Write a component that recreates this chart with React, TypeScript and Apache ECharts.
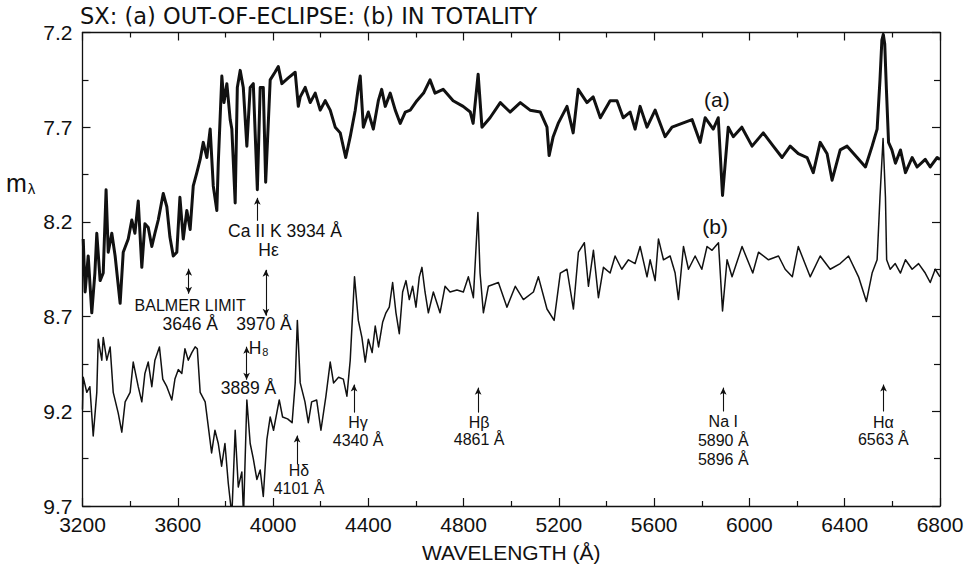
import React, { useEffect, useRef } from 'react';
import * as echarts from 'echarts';

// Spectrum (a): out of eclipse — wavelength (Å) and magnitude m_lambda
const waveA = [3203,3211,3224,3239,3252,3260,3274,3287,3299,3308,3323,3337,3358,3371,3392,3407,3420,3434,3449,3462,3476,3491,3504,3518,3539,3554,3567,3581,3596,3609,3623,3638,3652,3665,3680,3694,3707,3722,3736,3749,3764,3770,3785,3794,3806,3820,3827,3841,3850,3862,3875,3890,3904,3917,3934,3946,3959,3969,3988,4008,4022,4037,4064,4093,4106,4114,4135,4156,4177,4198,4219,4240,4261,4282,4305,4324,4345,4358,4366,4379,4400,4421,4442,4456,4471,4492,4513,4534,4555,4576,4604,4632,4659,4680,4714,4756,4798,4828,4840,4861,4877,4911,4954,4995,5038,5079,5122,5150,5159,5176,5197,5234,5260,5281,5318,5344,5374,5415,5444,5470,5499,5520,5541,5570,5604,5646,5675,5717,5759,5793,5814,5848,5869,5887,5911,5932,5968,6011,6058,6100,6137,6171,6205,6242,6268,6297,6326,6347,6381,6410,6452,6487,6515,6536,6548,6556,6562,6568,6575,6584,6598,6613,6634,6655,6683,6704,6738,6759,6788,6800];
const magA = [8.29,8.57,8.38,8.68,8.47,8.26,8.51,8.47,8.03,8.36,8.26,8.38,8.63,8.36,8.29,8.19,8.26,8.09,8.44,8.21,8.23,8.33,8.26,8.19,8.05,8.12,8.28,8.38,8.36,8.07,8.29,8.14,8.24,8.01,7.94,7.87,7.78,7.86,7.71,8.01,8.14,7.89,7.43,7.57,7.47,7.66,7.71,8.10,7.49,7.40,7.49,7.80,7.49,7.47,8.03,7.49,7.49,7.99,7.45,7.41,7.38,7.47,7.44,7.41,7.59,7.54,7.49,7.57,7.52,7.61,7.56,7.61,7.70,7.73,7.86,7.75,7.61,7.49,7.43,7.70,7.62,7.71,7.56,7.50,7.59,7.52,7.61,7.68,7.62,7.61,7.56,7.52,7.45,7.52,7.50,7.56,7.59,7.62,7.68,7.42,7.70,7.65,7.57,7.62,7.57,7.61,7.62,7.70,7.85,7.75,7.68,7.59,7.73,7.50,7.57,7.54,7.65,7.56,7.56,7.65,7.62,7.71,7.59,7.70,7.61,7.75,7.70,7.68,7.66,7.78,7.65,7.71,7.65,8.06,7.70,7.75,7.70,7.80,7.73,7.80,7.86,7.80,7.84,7.86,7.94,7.78,7.84,7.98,7.82,7.80,7.86,7.91,7.80,7.71,7.45,7.24,7.21,7.26,7.50,7.78,7.82,7.89,7.82,7.94,7.86,7.91,7.87,7.91,7.86,7.87];

// Spectrum (b): in totality
const waveB = [3200,3203,3218,3231,3245,3260,3266,3281,3287,3302,3316,3329,3350,3365,3379,3400,3413,3434,3449,3462,3476,3491,3504,3523,3537,3554,3575,3588,3602,3617,3630,3644,3659,3673,3682,3694,3715,3728,3742,3756,3770,3784,3798,3812,3827,3841,3854,3869,3876,3890,3904,3917,3932,3946,3959,3974,3988,4002,4026,4040,4061,4080,4093,4102,4114,4134,4148,4162,4183,4201,4222,4240,4254,4275,4295,4310,4324,4342,4358,4373,4387,4400,4416,4429,4443,4460,4474,4488,4502,4516,4530,4544,4558,4572,4586,4600,4614,4625,4638,4652,4673,4701,4722,4743,4772,4799,4820,4841,4860,4869,4883,4904,4946,4982,5017,5051,5093,5114,5150,5180,5206,5234,5261,5282,5307,5324,5345,5366,5387,5415,5436,5464,5492,5520,5541,5570,5583,5604,5618,5639,5667,5688,5702,5723,5744,5772,5800,5822,5843,5870,5887,5906,5927,5969,6014,6038,6080,6122,6150,6180,6205,6255,6297,6339,6381,6416,6458,6491,6515,6536,6548,6561,6571,6576,6591,6612,6634,6655,6683,6710,6738,6759,6780,6800];
const magB = [9.19,9.02,9.10,9.07,9.33,9.10,8.82,8.93,8.81,8.93,8.86,9.10,9.21,9.31,9.15,9.10,8.94,9.07,9.15,9.00,8.94,9.07,8.93,8.86,9.03,9.07,9.14,9.03,8.98,9.00,8.87,8.93,8.89,8.86,8.87,9.10,9.15,9.28,9.42,9.30,9.37,9.49,9.37,9.58,9.75,9.30,9.60,9.52,9.75,9.14,9.37,9.45,9.56,9.51,9.65,9.35,9.23,9.30,9.14,9.23,9.24,9.26,9.05,8.72,9.05,9.15,9.26,9.15,9.14,9.30,9.12,8.94,9.05,9.02,9.03,9.12,8.93,8.49,8.72,8.81,8.94,8.82,8.89,8.75,8.86,8.73,8.68,8.65,8.52,8.68,8.79,8.57,8.51,8.61,8.54,8.65,8.49,8.44,8.57,8.68,8.57,8.68,8.54,8.57,8.56,8.57,8.49,8.60,8.15,8.47,8.68,8.54,8.52,8.65,8.54,8.61,8.57,8.49,8.66,8.72,8.47,8.45,8.66,8.36,8.31,8.54,8.35,8.60,8.44,8.47,8.38,8.45,8.40,8.42,8.33,8.49,8.40,8.51,8.29,8.40,8.38,8.47,8.61,8.33,8.45,8.38,8.45,8.33,8.35,8.31,8.67,8.40,8.49,8.33,8.47,8.36,8.40,8.38,8.45,8.49,8.33,8.49,8.38,8.45,8.42,8.38,8.49,8.62,8.47,8.40,8.07,7.76,8.07,8.40,8.45,8.42,8.47,8.40,8.45,8.42,8.47,8.52,8.45,8.49];

// Axis ticks
const xMin = 3200, xMax = 6800, xStep = 400;
const yMin = 7.2, yMax = 9.7, yStep = 0.5;

// Line identifications: label texts and their anchor (wavelength, magnitude)
const annLabels = ['BALMER LIMIT\n{n|3646 Å}','Ca II K 3934 Å','Hε','3970 Å','H{s|8}','3889 Å','Hδ\n4101 Å','Hγ\n4340 Å','Hβ\n4861 Å','Na I\n5890 Å\n5896 Å','Hα\n6563 Å','(a)','(b)'];
const annWave = [3652,4050,3981,3962,3939,3897,4109,4357,4865,5890,6562,5863,5856];
const annMag = [8.689,8.249,8.347,8.740,8.867,9.078,9.560,9.306,9.305,9.355,9.305,7.556,8.223];

// Arrows: wavelength, tail magnitude, tip magnitude, double-headed?
const arrowWave = [3646,3934,3970,3889,4101,4340,4861,5890,6563];
const arrowTail = [8.579,8.194,8.695,9.033,9.481,9.207,9.207,9.201,9.201];
const arrowTip = [8.447,8.073,8.453,8.859,9.328,9.059,9.075,9.075,9.059];
const arrowBoth = [true,false,true,true,false,false,false,false,false];

export default function App() {
  const ref = useRef<HTMLDivElement>(null);
  useEffect(() => {
    if (!ref.current) return;
    const chart = echarts.init(ref.current, null, { renderer: 'svg' });
    const ink = '#111111';
    const font = 'Liberation Sans, Arial, sans-serif';

    const dataA = waveA.map((w, i) => [w, magA[i]]);
    const dataB = waveB.map((w, i) => [w, magB[i]]);

    const isTag = (t: string) => t === '(a)' || t === '(b)';
    const annItems = annLabels.map((t, i) => ({
      name: t,
      value: [annWave[i], annMag[i]],
      label: {
        fontSize: isTag(t) ? 21 : t.startsWith('BALMER') ? 16 : t.includes('\n') ? 16 : 17.5,
        lineHeight: t.startsWith('BALMER') ? 18 : t.startsWith('Na') ? 19 : 17.5,
        color: ink,
      },
    }));

    const arrowData = arrowWave.map((w, i) => [
      { coord: [w, arrowTail[i]], symbol: arrowBoth[i] ? 'arrow' : 'none', symbolSize: [5, 7] },
      { coord: [w, arrowTip[i]], symbol: 'arrow', symbolSize: [5, 7] },
    ]);

    const tickStyle = { color: ink, width: 1.2 };
    const xBase = {
      type: 'value', min: xMin, max: xMax, interval: xStep,
      axisLine: { show: true, onZero: false, lineStyle: { color: ink, width: 1.3 } },
      axisTick: { show: true, inside: true, length: 8, lineStyle: tickStyle },
      minorTick: { show: true, splitNumber: 2, length: 5, lineStyle: tickStyle },
      splitLine: { show: false },
      minorSplitLine: { show: false },
    };
    const yBase = {
      type: 'value', min: yMin, max: yMax, interval: yStep, inverse: true,
      axisLine: { show: true, onZero: false, lineStyle: { color: ink, width: 1.3 } },
      axisTick: { show: true, inside: true, length: 8, lineStyle: tickStyle },
      minorTick: { show: true, splitNumber: 2, length: 6, lineStyle: tickStyle },
      splitLine: { show: false },
      minorSplitLine: { show: false },
    };

    chart.setOption({
      animation: false,
      backgroundColor: '#ffffff',
      title: {
        text: 'SX: (a) OUT-OF-ECLIPSE: (b) IN TOTALITY',
        left: 80, top: 4, padding: 0,
        textStyle: { color: ink, fontSize: 22.5, fontWeight: 'normal', fontFamily: 'DejaVu Sans, sans-serif' },
      },
      grid: { left: 82.5, right: 34, top: 32.5, bottom: 61.5 },
      xAxis: [
        {
          ...xBase, position: 'bottom',
          axisLabel: {
            show: true, color: ink, fontSize: 21, fontFamily: font, margin: 8,
            showMinLabel: true, showMaxLabel: true,
            formatter: (v: number) => String(Math.round(v)),
          },
          name: 'WAVELENGTH (Å)', nameLocation: 'middle', nameGap: 36,
          nameTextStyle: { color: ink, fontSize: 21, fontFamily: font },
        },
        { ...xBase, position: 'top', axisLabel: { show: false } },
      ],
      yAxis: [
        {
          ...yBase, position: 'left',
          axisLabel: {
            show: true, color: ink, fontSize: 21, fontFamily: font, margin: 10,
            showMinLabel: true, showMaxLabel: true,
            formatter: (v: number) => v.toFixed(1),
          },
        },
        { ...yBase, position: 'right', axisLabel: { show: false } },
      ],
      graphic: [
        {
          type: 'text', left: 6, top: 170, silent: true,
          style: {
            text: 'm{s|λ}',
            fill: ink,
            fontSize: 25,
            fontFamily: font,
            rich: { s: { fontSize: 15, fontFamily: font, fill: ink, padding: [11, 0, 0, 1] } },
          },
        },
      ],
      series: [
        {
          name: 'a', type: 'line', data: dataA, xAxisIndex: 0, yAxisIndex: 0,
          symbol: 'none', showSymbol: false, silent: true, z: 3,
          lineStyle: { color: ink, width: 3, join: 'round' },
        },
        {
          name: 'b', type: 'line', data: dataB, xAxisIndex: 0, yAxisIndex: 0,
          symbol: 'none', showSymbol: false, silent: true, z: 3,
          lineStyle: { color: ink, width: 1.5, join: 'round' },
          markLine: {
            silent: true, animation: false,
            symbol: ['none', 'arrow'], symbolSize: [5, 7],
            label: { show: false },
            lineStyle: { color: ink, width: 1.1, type: 'solid' },
            emphasis: { disabled: true },
            data: arrowData,
          },
        },
        {
          name: 'labels', type: 'scatter', data: annItems, xAxisIndex: 0, yAxisIndex: 0,
          symbolSize: 1, silent: true, z: 5,
          itemStyle: { color: 'rgba(0,0,0,0)' },
          emphasis: { disabled: true },
          label: {
            show: true, position: 'inside', color: ink, fontFamily: font,
            textBorderWidth: 0, opacity: 1, align: 'center', verticalAlign: 'middle',
            formatter: (p: any) => p.name,
            rich: {
              s: { fontSize: 11, fontFamily: font, color: ink, padding: [7, 0, 0, 1] },
              n: { fontSize: 17.5, fontFamily: font, color: ink, lineHeight: 18 },
            },
          },
        },
      ],
    });
    return () => chart.dispose();
  }, []);
  return <div ref={ref} style={{ position: 'fixed', left: 0, top: 0, width: 974, height: 568 }} />;
}
